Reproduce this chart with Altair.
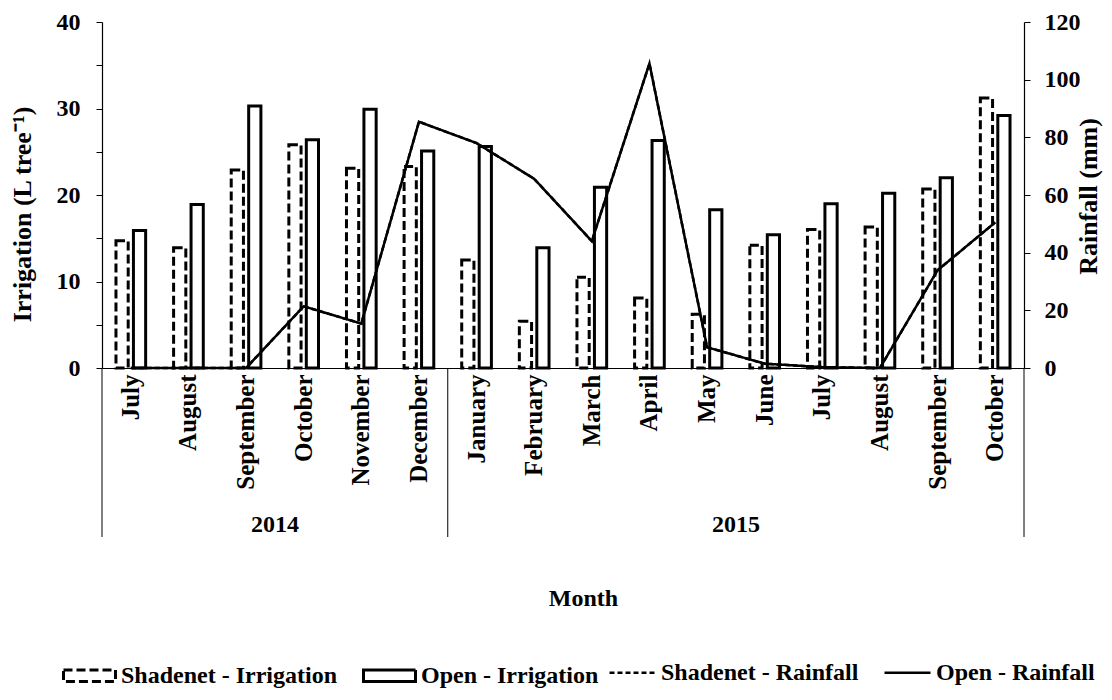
import altair as alt
import pandas as pd

months = ["July", "August", "September", "October", "November", "December",
          "January", "February", "March", "April", "May", "June",
          "July", "August", "September", "October"]
years = ["2014"] * 6 + ["2015"] * 10
keys = [f"{m} {y}" for m, y in zip(months, years)]

shade_irr = [14.7, 13.9, 22.9, 25.8, 23.1, 23.3, 12.5, 5.4, 10.5, 8.1, 6.2, 14.2, 16.0, 16.3, 20.7, 31.2]
open_irr = [15.9, 18.9, 30.3, 26.4, 29.9, 25.1, 25.6, 13.9, 20.9, 26.3, 18.3, 15.4, 19.0, 20.2, 22.0, 29.2]
shade_rain = [0, 0, 0, 21.4, 15.4, 85.4, 78.0, 65.6, 44.0, 105.6, 7.2, 1.5, 0.3, 0, 33.9, 50.5]
open_rain = [0, 0, 0, 21.4, 15.4, 85.4, 78.0, 65.6, 44.0, 105.6, 7.2, 1.5, 0.3, 0, 33.9, 50.5]

irr_series = ["Shadenet - Irrigation", "Open - Irrigation"]
rain_series = ["Shadenet - Rainfall", "Open - Rainfall"]
irr_dashes = [[9, 4], [1, 0]]
rain_dashes = [[5, 3], [1, 0]]

year_labels = ["2014", "2015"]

FONT = "Liberation Serif"
TOP = 22          # page y of the plot top

bars = pd.DataFrame(
    [{"key": k, "iseries": irr_series[0], "value": v} for k, v in zip(keys, shade_irr)]
    + [{"key": k, "iseries": irr_series[1], "value": v} for k, v in zip(keys, open_irr)]
)
rain = pd.DataFrame(
    [{"key": k, "rseries": rain_series[0], "rain": v} for k, v in zip(keys, shade_rain)]
    + [{"key": k, "rseries": rain_series[1], "rain": v} for k, v in zip(keys, open_rain)]
)

xscale = alt.Scale(domain=keys, paddingInner=0, paddingOuter=0)
irr_dash_scale = alt.Scale(domain=irr_series, range=irr_dashes)
rain_dash_scale = alt.Scale(domain=rain_series, range=rain_dashes)

legend_common = dict(
    orient="none", direction="horizontal", title=None, legendY=648 - TOP,
    labelFont=FONT, labelFontSize=24, labelFontWeight="bold", labelColor="black",
    labelLimit=0, labelOffset=4, symbolStrokeColor="black", symbolOpacity=1,
)
irr_legend = alt.Legend(legendX=-40, columnPadding=20, symbolSize=2704,
                        symbolType="M-1,-0.22H1V0.22H-1Z",
                        symbolStrokeWidth=3, **legend_common)
rain_legend = alt.Legend(legendX=506, columnPadding=20, symbolSize=2116,
                         symbolType="M-1,0H1",
                         symbolStrokeWidth=2.5, **legend_common)

x_enc = alt.X(
    "key:N", sort=keys, scale=xscale, title="Month",
    axis=alt.Axis(
        labelExpr="split(datum.label, ' ')[0]", labelAngle=270, labelAlign="right",
        labelBaseline="middle", labelPadding=6, ticks=False, domainColor="black",
        labelFontSize=25, titleFontSize=24,
        titleX=481, titleY=230, titleBaseline="middle", titleAlign="center",
    ),
)

bar_layer = alt.Chart(bars).mark_bar(fill="white", stroke="black", strokeWidth=3).encode(
    x=x_enc,
    xOffset=alt.XOffset("iseries:N", sort=irr_series,
                        scale=alt.Scale(domain=irr_series, paddingInner=0.3, paddingOuter=0.8)),
    y=alt.Y("value:Q", scale=alt.Scale(domain=[0, 40], nice=False),
            axis=alt.Axis(values=list(range(0, 41, 5)),
                          labelExpr="datum.value % 10 == 0 ? datum.label : ''",
                          tickSize=6, grid=False, labelPadding=16,
                          title="Irrigation (L tree⁻¹)", titleAngle=270, titleAlign="center",
                          titleBaseline="middle", titleX=-80, titleY=214 - TOP)),
    strokeDash=alt.StrokeDash("iseries:N", scale=irr_dash_scale, legend=None),
)

# legend carrier for the irrigation series (draws no data: filtered out)
irr_key_layer = alt.Chart(bars).transform_filter("false").mark_line(
    color="black", strokeWidth=3
).encode(
    x=alt.X("key:N", sort=keys, scale=xscale),
    y=alt.Y("value:Q", scale=alt.Scale(domain=[0, 40], nice=False), axis=None),
    strokeDash=alt.StrokeDash("iseries:N", scale=irr_dash_scale, legend=irr_legend),
)

line_layer = alt.Chart(rain).mark_line(color="black", strokeWidth=2.5).encode(
    x=alt.X("key:N", sort=keys, scale=xscale),
    y=alt.Y("rain:Q", scale=alt.Scale(domain=[0, 120], nice=False),
            axis=alt.Axis(orient="right", values=list(range(0, 121, 20)), tickSize=6,
                          grid=False, labelPadding=14,
                          title="Rainfall (mm)", titleAngle=270, titleAlign="center",
                          titleBaseline="middle", titleX=64, titleY=196 - TOP)),
    strokeDash=alt.StrokeDash("rseries:N", scale=rain_dash_scale, legend=rain_legend),
)

sep_left = pd.DataFrame({"key": [keys[0], keys[6]]})
sep_right = pd.DataFrame({"key": [keys[-1]]})
rule_left = alt.Chart(sep_left).mark_rule(color="black", strokeWidth=1).encode(
    x=alt.X("key:N", sort=keys, scale=xscale, bandPosition=0),
    y=alt.value(368 - TOP), y2=alt.value(537 - TOP),
)
rule_right = alt.Chart(sep_right).mark_rule(color="black", strokeWidth=1).encode(
    x=alt.X("key:N", sort=keys, scale=xscale, bandPosition=1),
    y=alt.value(368 - TOP), y2=alt.value(537 - TOP),
)

yr14 = pd.DataFrame({"key": [keys[2]], "year": [year_labels[0]]})
yr15 = pd.DataFrame({"key": [keys[11]], "year": [year_labels[1]]})
text_style = dict(font=FONT, fontSize=24, fontWeight="bold", color="black", align="center",
                  baseline="alphabetic")
yt14 = alt.Chart(yr14).mark_text(**text_style).encode(
    x=alt.X("key:N", sort=keys, scale=xscale, bandPosition=1),
    y=alt.value(532 - TOP), text="year:N",
)
yt15 = alt.Chart(yr15).mark_text(**text_style).encode(
    x=alt.X("key:N", sort=keys, scale=xscale, bandPosition=0),
    y=alt.value(532 - TOP), text="year:N",
)

chart = alt.layer(
    bar_layer, irr_key_layer, line_layer, rule_left, rule_right, yt14, yt15
).resolve_scale(
    y="independent", strokeDash="independent"
).properties(
    width=922, height=368 - TOP, autosize="none", background="white",
    padding={"left": 94, "top": TOP - 8, "right": 80, "bottom": 684 - (368 - 8)},
).configure_view(stroke=None).configure_axis(
    labelFont=FONT, titleFont=FONT, labelFontSize=24, titleFontSize=26,
    labelFontWeight="bold", titleFontWeight="bold", labelColor="black", titleColor="black",
    domainColor="black", tickColor="black", domainWidth=1.2,
)

chart.save("out.html", embed_options={"renderer": "svg", "actions": False})
